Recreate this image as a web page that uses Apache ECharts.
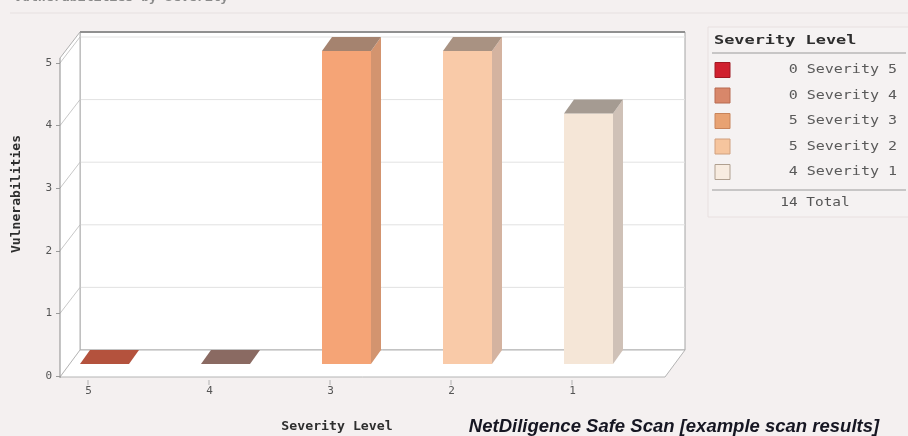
<!DOCTYPE html>
<html>
<head>
<meta charset="utf-8">
<script src="https://cdn.jsdelivr.net/npm/echarts@6/dist/echarts.min.js"></script>
<style>
  html, body { margin: 0; padding: 0; background: #f4f0f0; }
  #chart { width: 908px; height: 436px; }
</style>
</head>
<body>
<div id="chart"></div>
<script>
// ---- data ----
const categories = ['5', '4', '3', '2', '1'];
const vulnCounts = [0, 0, 5, 5, 4];
const legendLabels = ['Severity 5', 'Severity 4', 'Severity 3', 'Severity 2', 'Severity 1'];
const yMin = 0, yMax = 5, yStep = 1;

// ---- styling ----
const palette = [
  { front: '#c0503c', side: '#9a4030', top: '#b4523d', swatch: '#d0202e', edge: '#a01822' },
  { front: '#9a7068', side: '#7a5a54', top: '#8a6a62', swatch: '#d8876a', edge: '#b86a50' },
  { front: '#f5a476', side: '#d3946f', top: '#a5836f', swatch: '#e8a272', edge: '#c8845a' },
  { front: '#f9caa8', side: '#d4b3a0', top: '#a99282', swatch: '#f6c59e', edge: '#d0a07e' },
  { front: '#f5e6d7', side: '#cfc1b7', top: '#a59b92', swatch: '#f8ece0', edge: '#b0a090' }
];
const MONO = '"DejaVu Sans Mono", "Liberation Mono", monospace';
const DEPTH = [20, -26];          // offset of the back plane
const FRAME_TOP_EXTRA = 5;        // frame rises a little above the top tick
const BAR_INSET = 20;             // bar front face start inside its band
const BAR_W = 49;                 // bar front face width
const BAR_SHIFT_Y = -12;          // bars sit part way into the box
const BAR_DEPTH = [10, -14];      // bar depth projection
const TICK_INSET = 28;            // category tick position inside its band

function line(x1, y1, x2, y2, stroke, w) {
  return { type: 'line', shape: { x1, y1, x2, y2 }, style: { stroke, lineWidth: w || 1 }, silent: true };
}
function poly(points, fill, stroke) {
  return { type: 'polygon', shape: { points }, style: { fill, stroke: stroke || null, lineWidth: 1 }, silent: true };
}

// box: back wall, left wall, floor, grid lines and category ticks
function renderFrame(params, api) {
  const cs = params.coordSys;
  const L = cs.x, R = cs.x + cs.width, B = cs.y + cs.height;
  const T = cs.y - FRAME_TOP_EXTRA;
  const dx = DEPTH[0], dy = DEPTH[1];
  const children = [];
  children.push(poly([[L + dx, T + dy], [R + dx, T + dy], [R + dx, B + dy], [L + dx, B + dy]], '#ffffff', '#a4a4a4'));
  children.push(poly([[L, T], [L + dx, T + dy], [L + dx, B + dy], [L, B]], '#ffffff'));
  children.push(poly([[L, B + 1], [L + dx, B + dy], [R + dx, B + dy], [R, B + 1]], '#ffffff', '#b4b4b4'));
  for (let v = yMin + yStep; v <= yMax; v += yStep) {
    const y = api.coord([0, v])[1];
    children.push(line(L + dx, y + dy, R + dx, y + dy, '#e2e2e2'));
    children.push(line(L, y, L + dx, y + dy, '#c8c8c8'));
  }
  children.push(line(L + dx, T + dy, L + dx, B + dy, '#b0b0b0'));
  children.push(line(L + dx, T + dy, R + dx, T + dy, '#909090', 2));
  children.push(line(L, T, L + dx, T + dy, '#b0b0b0'));
  children.push(line(L, T, L, B + 2, '#8c8c8c'));
  const bw = api.size([1, 0])[0];
  categories.forEach(function (c, i) {
    const x = api.coord([i, 0])[0] - bw / 2 + TICK_INSET;
    children.push(line(x, B + 4, x, B + 9, '#b0b0b0'));
  });
  return { type: 'group', children };
}

// pseudo-3D bar: front, side and top faces
function renderBar(params, api) {
  const idx = api.value(0), v = api.value(1);
  const base = api.coord([idx, 0]);
  const top = api.coord([idx, v]);
  const bw = api.size([1, 0])[0];
  const x0 = base[0] - bw / 2 + BAR_INSET, x1 = x0 + BAR_W;
  const yb = base[1] + BAR_SHIFT_Y, yt = top[1] + BAR_SHIFT_Y;
  const dx = BAR_DEPTH[0], dy = BAR_DEPTH[1];
  const c = palette[idx];
  const children = [];
  if (v > 0) {
    children.push({ type: 'rect', shape: { x: x0, y: yt, width: x1 - x0, height: yb - yt }, style: { fill: c.front } });
    children.push(poly([[x1, yt], [x1 + dx, yt + dy], [x1 + dx, yb + dy], [x1, yb]], c.side));
  }
  children.push(poly([[x0, yt], [x0 + dx, yt + dy], [x1 + dx, yt + dy], [x1, yt]], c.top));
  return { type: 'group', children };
}

// legend panel
const total = vulnCounts.reduce(function (a, b) { return a + b; }, 0);
const legendEls = [
  { type: 'rect', shape: { x: 708, y: 27, width: 210, height: 190 }, style: { fill: '#f5f2f2', stroke: '#e8e0e0', lineWidth: 1 }, silent: true },
  { type: 'text', x: 714, y: 41, scaleX: 1.3, style: { text: 'Severity Level', font: 'bold 13px ' + MONO, fill: '#2e2e2e', verticalAlign: 'middle' } },
  { type: 'line', shape: { x1: 712, y1: 53, x2: 906, y2: 53 }, style: { stroke: '#9a9a9a', lineWidth: 1 } },
  { type: 'line', shape: { x1: 712, y1: 190, x2: 906, y2: 190 }, style: { stroke: '#9a9a9a', lineWidth: 1 } },
  { type: 'text', x: 815, y: 203, scaleX: 1.2, style: { text: total + ' Total', font: '12px ' + MONO, fill: '#555555', align: 'center', verticalAlign: 'middle' } }
];
legendLabels.forEach(function (lbl, i) {
  const y = 70 + i * 25.5;
  legendEls.push({ type: 'rect', shape: { x: 715, y: y - 7.5, width: 15, height: 15 }, style: { fill: palette[i].swatch, stroke: palette[i].edge, lineWidth: 1 } });
  legendEls.push({ type: 'text', x: 897, y: y, scaleX: 1.25, style: { text: vulnCounts[i] + ' ' + lbl, font: '12px ' + MONO, fill: '#5a5a5a', align: 'right', verticalAlign: 'middle' } });
});

const textEls = [
  { type: 'text', x: 14, y: 4, scaleX: 1.1, style: { text: 'Vulnerabilities by Severity', font: 'bold 12px ' + MONO, fill: '#8a8a8a', verticalAlign: 'bottom' } },
  { type: 'line', shape: { x1: 10, y1: 13, x2: 908, y2: 13 }, style: { stroke: '#e6e0e0', lineWidth: 1 } },
  { type: 'text', x: 17, y: 194, rotation: Math.PI / 2, scaleX: 1.09, style: { text: 'Vulnerabilities', font: 'bold 12px ' + MONO, fill: '#2e2e2e', align: 'center', verticalAlign: 'middle' } },
  { type: 'text', x: 337, y: 427, scaleX: 1.1, style: { text: 'Severity Level', font: 'bold 12px ' + MONO, fill: '#2e2e2e', align: 'center', verticalAlign: 'middle' } },
  { type: 'text', x: 674, y: 427, style: { text: 'NetDiligence Safe Scan [example scan results]', font: 'italic bold 18.5px "Liberation Sans", Arial, sans-serif', fill: '#161622', align: 'center', verticalAlign: 'middle' } }
];

const chart = echarts.init(document.getElementById('chart'), null, { renderer: 'canvas' });
chart.setOption({
  backgroundColor: '#f4f0f0',
  animation: false,
  grid: { left: 60, right: 243, top: 63, bottom: 60 },
  xAxis: {
    type: 'category',
    data: categories,
    axisLine: { show: false },
    axisTick: { show: false },
    axisLabel: { margin: 10, padding: [0, 64, 0, 0], color: '#555555', fontFamily: MONO, fontSize: 11 }
  },
  yAxis: {
    type: 'value',
    min: yMin, max: yMax, interval: yStep,
    axisLine: { show: false },
    axisTick: { show: true, length: 4, lineStyle: { color: '#9a9a9a' } },
    axisLabel: { margin: 8, color: '#555555', fontFamily: MONO, fontSize: 11 },
    splitLine: { show: false }
  },
  series: [
    { type: 'custom', z: 1, renderItem: renderFrame, data: [[0, 0]], silent: true, clip: false },
    {
      type: 'custom', z: 2, renderItem: renderBar, clip: false,
      encode: { x: 0, y: 1 },
      data: categories.map(function (c, i) { return [i, vulnCounts[i]]; })
    }
  ],
  graphic: { elements: legendEls.concat(textEls) }
});
</script>
</body>
</html>
